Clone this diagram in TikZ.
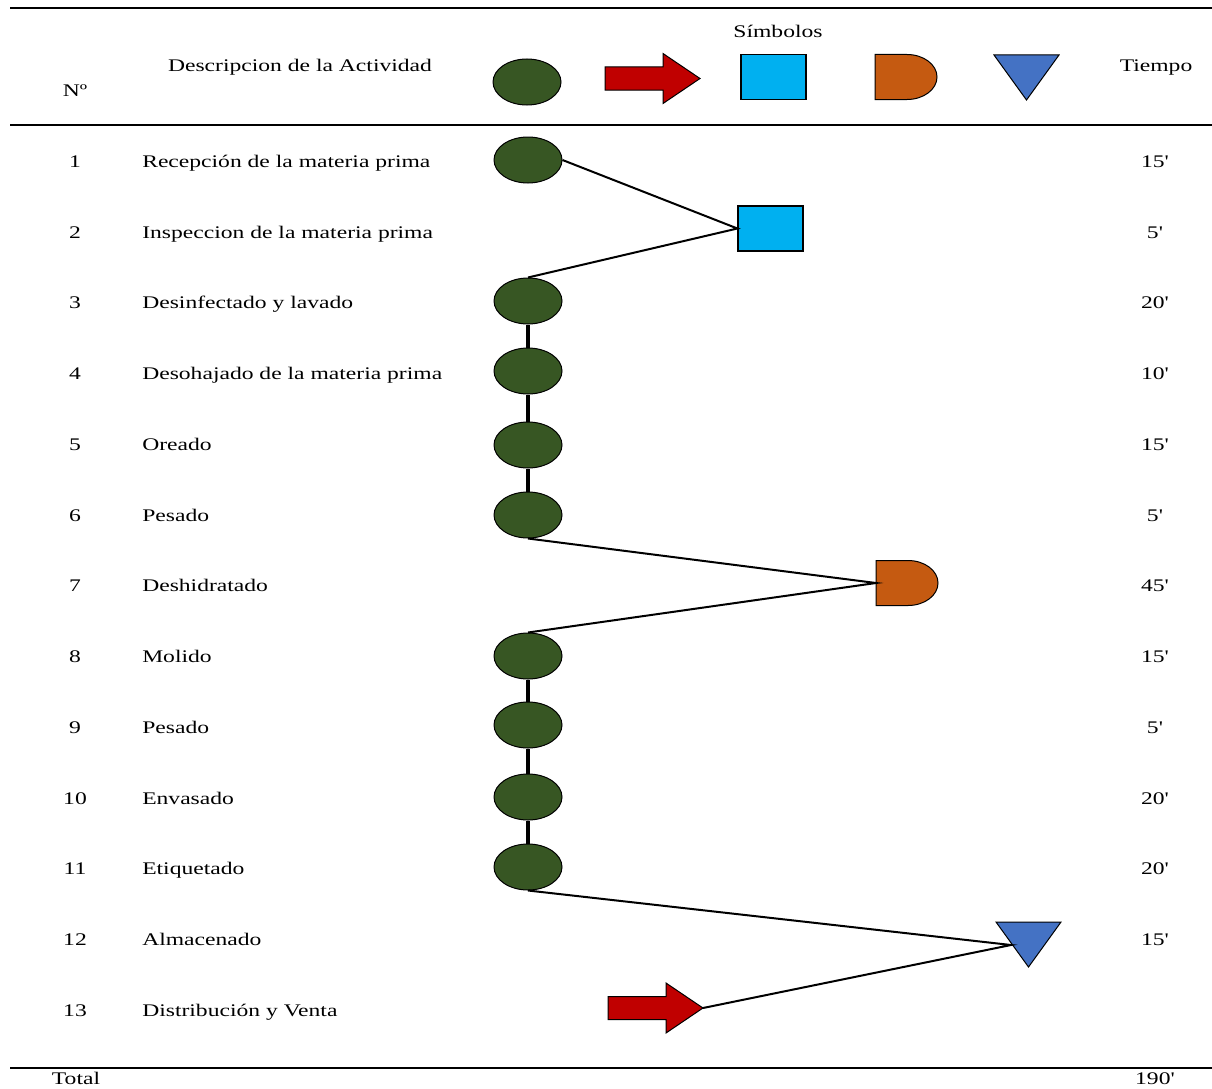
\documentclass[tikz,border=0pt]{standalone}
\usepackage{fontspec}
\usetikzlibrary{shapes.geometric}
\newfontfamily\tf[FakeStretch=1.33]{Liberation Serif}
\definecolor{opgreen}{HTML}{375623}
\definecolor{arrowred}{HTML}{C00000}
\definecolor{inspblue}{HTML}{00B0F0}
\definecolor{delayorange}{HTML}{C55A11}
\definecolor{storeblue}{HTML}{4472C4}
\begin{document}
\begin{tikzpicture}[x=0.75pt,y=-0.75pt,
  font=\tf\fontsize{13.3}{15}\selectfont,
  opnode/.style={draw=black, line width=0.75pt, ellipse, fill=opgreen, minimum width=51pt, minimum height=34.5pt, inner sep=0pt},
  inspnode/.style={draw=black, line width=0.9pt, rectangle, fill=inspblue, minimum width=48.75pt, minimum height=33.75pt, inner sep=0pt},
  link/.style={line width=1.5pt},
  vlink/.style={line width=2.4pt},
  tablerule/.style={line width=1.6pt},
  numtxt/.style={anchor=base, inner sep=0pt},
  desctxt/.style={anchor=base west, inner sep=0pt},
  flecha/.pic={
    \path[draw=black, fill=arrowred, line width=0.75pt] (0,-11.5) -- (58,-11.5) -- (58,-25) -- (95,0) -- (58,25) -- (58,11.5) -- (0,11.5) -- cycle;
    \coordinate (-tip) at (95,0);},
  demora/.pic={
    \path[draw=black, fill=delayorange, line width=0.75pt] (0,-22.5) -- (32,-22.5) arc[start angle=-90, end angle=90, x radius=30, y radius=22.5] -- (0,22.5) -- cycle;
    \coordinate (-w) at (0,0);},
  almacen/.pic={
    \path[draw=black, fill=storeblue, line width=0.75pt] (0,0) -- (65,0) -- (32.5,45) -- cycle;
    \coordinate (-in) at (15,23);}
]
\useasboundingbox (0,0) rectangle (1212,1088);

% table rules
\coordinate (r1a) at (10,8);   \coordinate (r1b) at (1212,8);
\coordinate (r2a) at (10,125); \coordinate (r2b) at (1212,125);
\coordinate (r3a) at (10,1068);\coordinate (r3b) at (1212,1068);
\draw[tablerule] (r1a) -- (r1b);
\draw[tablerule] (r2a) -- (r2b);
\draw[tablerule] (r3a) -- (r3b);

% header
\node[numtxt] (hsim) at (778,37.5) {Símbolos};
\node[numtxt] (hdesc) at (300,71.5) {Descripcion de la Actividad};
\node[numtxt] (hnum) at (75,96.5) {Nº};
\node[numtxt] (htime) at (1156,71.5) {Tiempo};
\node[opnode] (hop) at (527,82) {};
\pic (harrow) at (605,78.5) {flecha};
\node[inspnode] (hinsp) at (773.5,77) {};
\pic (hdelay) at (875,77) {demora};
\pic (hstore) at (994,55) {almacen};

% rows: numbers, descriptions, times
\foreach \n/\y/\d/\t in {
  1/161/{Recepción de la materia prima}/15',
  2/232/{Inspeccion de la materia prima}/5',
  3/302/{Desinfectado y lavado}/20',
  4/373/{Desohajado de la materia prima}/10',
  5/444/{Oreado}/15',
  6/515/{Pesado}/5',
  7/585/{Deshidratado}/45',
  8/656/{Molido}/15',
  9/727/{Pesado}/5',
  10/798/{Envasado}/20',
  11/868/{Etiquetado}/20',
  12/939/{Almacenado}/15'}{
  \node[numtxt] (n\n) at (75,\y+6.5) {\n};
  \node[desctxt] (d\n) at (142,\y+6.5) {\d};
  \node[numtxt] (t\n) at (1155,\y+6.5) {\t};
}
\node[numtxt] (n13) at (75,1016.5) {13};
\node[desctxt] (d13) at (142,1016.5) {Distribución y Venta};
\node[numtxt] (total) at (76,1084) {Total};
\node[numtxt] (ttotal) at (1155,1084) {190'};

% symbols
\node[opnode] (e1) at (528,160) {};
\node[inspnode] (s2) at (770.5,228.5) {};
\node[opnode] (e3) at (528,301) {};
\node[opnode] (e4) at (528,371) {};
\node[opnode] (e5) at (528,445) {};
\node[opnode] (e6) at (528,515) {};
\pic (dl7) at (876,583) {demora};
\node[opnode] (e8) at (528,656) {};
\node[opnode] (e9) at (528,725) {};
\node[opnode] (e10) at (528,797) {};
\node[opnode] (e11) at (528,867) {};
\pic (st12) at (996,922) {almacen};
\pic (ar13) at (608,1008) {flecha};

% connectors
\draw[link] (e1.east) -- (s2.west) -- (e3.north);
\draw[vlink] (e3.south) -- (e4.north);
\draw[vlink] (e4.south) -- (e5.north);
\draw[vlink] (e5.south) -- (e6.north);
\draw[link] (e6.south) -- (dl7-w) -- (e8.north);
\draw[vlink] (e8.south) -- (e9.north);
\draw[vlink] (e9.south) -- (e10.north);
\draw[vlink] (e10.south) -- (e11.north);
\draw[link] (e11.south) -- (st12-in) -- (ar13-tip);
\end{tikzpicture}
\end{document}
